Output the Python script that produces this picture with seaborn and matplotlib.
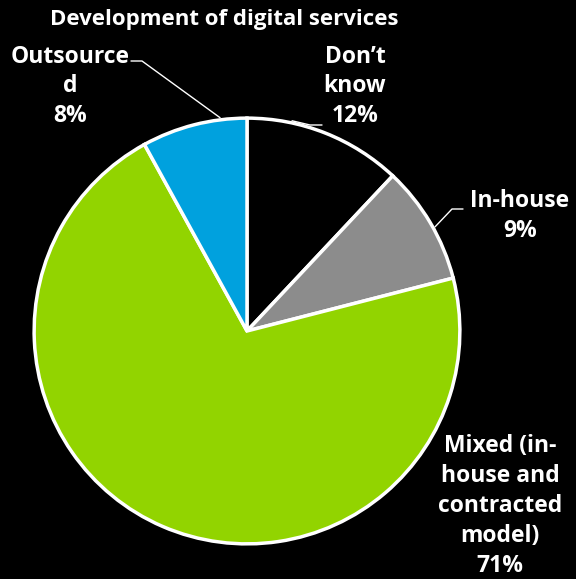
import numpy as np
import matplotlib.pyplot as plt
import seaborn as sns

# data
labels = ["Don\u2019t\nknow", "In-house", "Mixed (in-\nhouse and\ncontracted\nmodel)", "Outsource\nd"]
values = [12, 9, 71, 8]
colors = ["#000000", "#8c8c8c", "#92d400", "#00a1de"]

sns.set_style("dark")
plt.rcParams["font.family"] = ["Open Sans", "DejaVu Sans"]

W, H = 576, 579
fig = plt.figure(figsize=(W / 100, H / 100), dpi=100, facecolor="black")

# pie centre ~ (247, 330) px, radius ~215 px
cx, cy, r = 247, 331, 215
ax = fig.add_axes([(cx - r) / W, (H - cy - r) / H, 2 * r / W, 2 * r / H])
ax.set_facecolor("black")
wedges, _ = ax.pie(values, colors=colors, startangle=90, counterclock=False,
                   wedgeprops=dict(edgecolor="white", linewidth=2.5))
ax.set_xlim(-1.01, 1.01)
ax.set_ylim(-1.01, 1.01)
ax.set_aspect("equal")
ax.axis("off")

def px(x, y):
    return (x / W, 1 - y / H)

fig.text(*px(224, 20), "Development of digital services", color="white",
         fontsize=16, fontweight="bold", ha="center", va="center")

# label text: (centre x, top line centre y) in px
label_pos = [(355, 55), (520, 200), (500, 443), (70, 55)]
line_h = 31.5
for lab, val, (lx, ly) in zip(labels, values, label_pos):
    txt = lab + "\n" + f"{val}%"
    n = txt.count("\n") + 1
    fig.text(*px(lx, ly + (n - 1) * line_h / 2), txt, color="white",
             fontsize=16.5, fontweight="bold", ha="center", va="center",
             linespacing=1.33)

# leader lines: from wedge edge to horizontal tail near label
leaders = {0: [(322, 125), (310, 125)], 1: [(463, 209), (452, 209)], 3: [(131, 61), (142, 61)]}
edge_frac = {0: 0.72, 1: 0.45, 3: 0.25}
for i, pts in leaders.items():
    w = wedges[i]
    ang = np.deg2rad(w.theta1 + (w.theta2 - w.theta1) * edge_frac[i])
    ex, ey = cx + r * np.cos(ang), cy - r * np.sin(ang)
    xs = [pts[0][0], pts[1][0], ex]
    ys = [pts[0][1], pts[1][1], ey]
    fig.add_artist(plt.Line2D([x / W for x in xs], [1 - y / H for y in ys],
                              color="white", linewidth=1, transform=fig.transFigure))

fig.savefig("out.png", dpi=100, facecolor="black")
